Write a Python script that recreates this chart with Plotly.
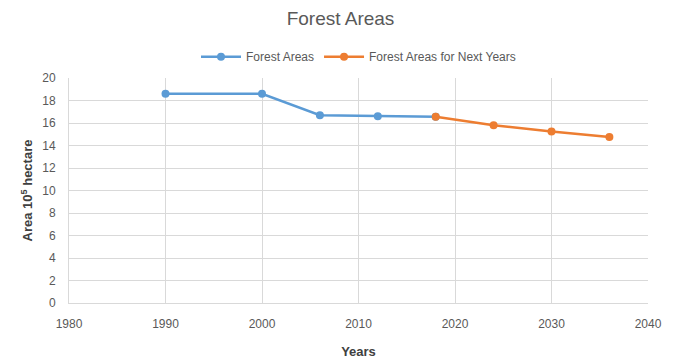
import plotly.graph_objects as go

years_hist = [1990, 2000, 2006, 2012, 2018]
area_hist = [18.6, 18.6, 16.7, 16.6, 16.55]
years_next = [2018, 2024, 2030, 2036]
area_next = [16.55, 15.8, 15.25, 14.75]

font = "Liberation Sans"
grid = "#D9D9D9"
txt = "#595959"

fig = go.Figure()
fig.add_trace(go.Scatter(x=years_hist, y=area_hist, mode="lines+markers", name="Forest Areas",
                         line=dict(color="#5B9BD5", width=2.5), marker=dict(size=8, color="#5B9BD5")))
fig.add_trace(go.Scatter(x=years_next, y=area_next, mode="lines+markers", name="Forest Areas for Next Years",
                         line=dict(color="#ED7D31", width=2.5), marker=dict(size=8, color="#ED7D31")))

fig.update_layout(
    width=681, height=360,
    margin=dict(l=69, r=33, t=78, b=57),
    paper_bgcolor="white", plot_bgcolor="white",
    font=dict(family=font, color=txt, size=12),
    title=dict(text="Forest Areas", x=0.5, xanchor="center", y=0.95, yanchor="middle",
               font=dict(size=19, color=txt, family=font)),
    legend=dict(orientation="h", x=0.5, xanchor="center", y=1.095, yanchor="middle",
                font=dict(size=12, color=txt), itemwidth=40),
    showlegend=True,
)
fig.update_xaxes(range=[1980, 2040], dtick=10, tick0=1980, showgrid=True, gridcolor=grid, gridwidth=1,
                 showline=True, linecolor=grid, linewidth=1, zeroline=False, automargin=False,
                 ticks="outside", ticklen=10, tickcolor="rgba(0,0,0,0)",
                 tickfont=dict(size=12, color=txt),
                 title=dict(text="<b>Years</b>", font=dict(size=13, color="#404040"), standoff=16))
fig.update_yaxes(range=[0, 20], dtick=2, showgrid=True, gridcolor=grid, gridwidth=1,
                 showline=True, linecolor=grid, linewidth=1, zeroline=False, automargin=False,
                 ticks="outside", ticklen=10, tickcolor="rgba(0,0,0,0)",
                 tickfont=dict(size=12, color=txt),
                 title=dict(text="<b>Area 10<sup>5</sup> hectare</b>", font=dict(size=13, color="#404040"), standoff=6))

fig.write_html("out.html")
